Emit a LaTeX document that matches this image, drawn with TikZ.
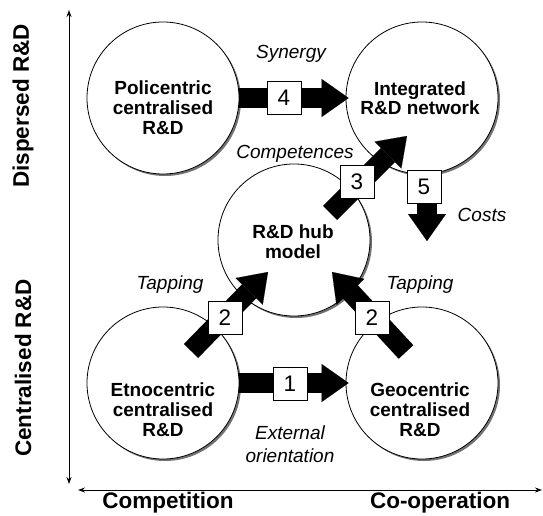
\documentclass[tikz,border=0pt]{standalone}
\usepackage{fontspec}
\setmainfont{Liberation Sans}
\usetikzlibrary{arrows.meta,shadows,calc}
\begin{document}
\begin{tikzpicture}[x=1pt,y=-1pt,
  circ/.style={circle, draw, line width=0.8pt, fill=white, minimum size=152pt, inner sep=0pt,
    drop shadow={shadow xshift=2pt, shadow yshift=-2pt, fill=black!55, opacity=1}},
  ctext/.style={font=\fontsize{19}{20}\selectfont\bfseries, align=center, anchor=base, inner sep=0pt},
  itext/.style={font=\fontsize{19}{23}\selectfont\itshape, align=center, inner sep=0pt},
  axtext/.style={font=\fontsize{22.5}{24}\selectfont\bfseries, inner sep=0pt},
  blockarrow/.style={line width=20pt, -{Triangle[width=38pt,length=27pt,line width=0.1pt]}},
  numbox/.style={draw, line width=0.8pt, fill=white, minimum width=34pt, minimum height=33pt, inner sep=0pt, font=\fontsize{22.5}{24}\selectfont},
  axis/.style={line width=0.9pt, {Stealth[length=7pt,width=5pt]}-{Stealth[length=7pt,width=5pt]}}
]
\useasboundingbox (0,0) rectangle (543,516);
% axes
\coordinate (vtop) at (69,10);
\coordinate (vbot) at (69,484);
\coordinate (hl) at (78,490);
\coordinate (hr) at (542,490);
\draw[axis] (vtop) -- (vbot);
\draw[axis] (hl) -- (hr);
\node[axtext, rotate=90] (dlab) at (23,106) {Dispersed R\&D};
\node[axtext, rotate=90] (clab) at (23,368) {Centralised R\&D};
\node[axtext] (complab) at (168,503) {Competition};
\node[axtext] (coplab) at (440,503) {Co-operation};
% circles
\node[circ] (P) at (163,98) {};
\node[circ] (I) at (422,98) {};
\node[circ] (H) at (294,240) {};
\node[circ] (E) at (163,383) {};
\node[circ] (G) at (422,383) {};
% arrow end points
\coordinate (t3) at (330,213);
\coordinate (h3) at (407,136);
\coordinate (t5) at (427,172);
\coordinate (h5) at (427,241);
\coordinate (t2a) at (191,351);
\coordinate (h2a) at (268,272);
\coordinate (t2b) at (406,352);
\coordinate (h2b) at (332,272);
% arrows
\draw[blockarrow] (P.east) -- ([xshift=3pt]I.west);
\draw[blockarrow] (E.east) -- ([xshift=3pt]G.west);
\draw[blockarrow] (t3) -- (h3);
\draw[blockarrow] (t5) -- (h5);
\draw[blockarrow] (t2a) -- (h2a);
\draw[blockarrow] (t2b) -- (h2b);
% number boxes
\node[numbox] (b4) at (284,98) {4};
\node[numbox] (b1) at (290,384) {1};
\node[numbox] (b3) at (357,182) {3};
\node[numbox] (b5) at (424,187) {5};
\node[numbox] (b2a) at (225,318) {2};
\node[numbox] (b2b) at (372,318) {2};
% circle texts (base = last line)
\node[ctext] (Pt) at (163,135) {Policentric\\centralised\\R\&D};
\node[ctext] (It) at (420,115) {Integrated\\R\&D network};
\node[ctext] (Ht) at (293,258) {R\&D hub\\model};
\node[ctext] (Et) at (163,436) {Etnocentric\\centralised\\R\&D};
\node[ctext] (Gt) at (420,436) {Geocentric\\centralised\\R\&D};
% italic labels
\node[itext] (syn) at (291,54) {Synergy};
\node[itext] (comp) at (295,154) {Competences};
\node[itext] (costs) at (482,215) {Costs};
\node[itext] (tapl) at (170,285) {Tapping};
\node[itext] (tapr) at (420,285) {Tapping};
\node[itext] (ext) at (290,444) {External\\orientation};
\end{tikzpicture}
\end{document}
